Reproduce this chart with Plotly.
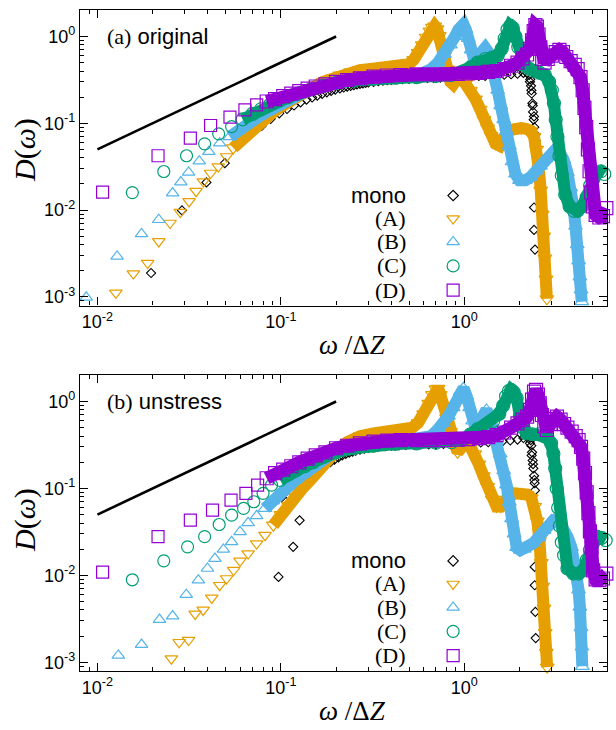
import plotly.graph_objects as go

# ---------------- data: panel (a) original ----------------
mono_a_w = [0.0196, 0.0289, 0.0393, 0.0495, 0.0586, 0.068, 0.0786, 0.088, 0.098, 0.108, 0.118, 0.128, 0.138, 0.148,
            0.158, 0.168, 0.178, 0.188, 0.198, 0.21, 0.22, 0.23, 0.24, 0.25, 0.26, 0.27, 0.28, 0.29, 0.30, 0.32, 0.34,
            0.36, 0.38, 0.40, 0.43, 0.46, 0.50, 0.54, 0.58, 0.63, 0.68, 0.74, 0.80, 0.87, 0.94, 1.02, 1.1, 1.2, 1.3,
            1.4, 1.52, 1.65, 1.8, 1.95, 2.1, 2.2, 2.26, 2.29, 2.31, 2.33, 2.35, 2.37, 2.39, 2.41, 2.43, 2.45, 2.40,
            2.40, 2.43, 2.28, 2.32, 2.36, 2.40]
mono_a_d = [0.00188, 0.0099, 0.0208, 0.0347, 0.055, 0.0736, 0.0933, 0.112, 0.13, 0.146, 0.16, 0.174, 0.187, 0.198,
            0.208, 0.218, 0.227, 0.236, 0.244, 0.252, 0.258, 0.264, 0.27, 0.275, 0.28, 0.284, 0.288, 0.292, 0.295, 0.30,
            0.305, 0.31, 0.313, 0.316, 0.32, 0.322, 0.325, 0.327, 0.33, 0.332, 0.334, 0.336, 0.338, 0.34, 0.342, 0.345,
            0.348, 0.35, 0.352, 0.355, 0.358, 0.362, 0.367, 0.372, 0.38, 0.38, 0.36, 0.32, 0.27, 0.22, 0.17, 0.135,
            0.11, 0.09, 0.075, 0.063, 0.0107, 0.0059, 0.0035, 0.30, 0.24, 0.16, 0.12]

A_a_sw = [0.0126, 0.0157, 0.0188, 0.0216, 0.0249, 0.0283, 0.0316, 0.0345, 0.0378, 0.0414, 0.0456, 0.0506]
A_a_sd = [0.00111, 0.00185, 0.00245, 0.00435, 0.00709, 0.00948, 0.01256, 0.0165, 0.0213, 0.0267, 0.0317, 0.0414]
A_a_w = [0.055, 0.06, 0.065, 0.07, 0.075, 0.08, 0.09, 0.1, 0.11, 0.12, 0.135, 0.15, 0.17, 0.19, 0.21, 0.24, 0.27,
         0.3, 0.34, 0.38, 0.42, 0.46, 0.5, 0.53, 0.56, 0.59, 0.62, 0.65, 0.67, 0.69, 0.71, 0.73, 0.75, 0.78, 0.81,
         0.84, 0.87, 0.9, 0.93, 0.97, 1.02, 1.08, 1.15, 1.22, 1.28, 1.34, 1.40, 1.48, 1.56, 1.63, 1.70, 1.80, 1.92,
         2.05, 2.18, 2.30, 2.40, 2.48, 2.55, 2.61, 2.66, 2.71, 2.75, 2.79, 2.82]
A_a_d = [0.052, 0.062, 0.073, 0.085, 0.097, 0.108, 0.132, 0.155, 0.178, 0.2, 0.23, 0.26, 0.3, 0.33, 0.36, 0.39, 0.41,
         0.42, 0.43, 0.43, 0.44, 0.45, 0.48, 0.54, 0.65, 0.8, 0.98, 1.15, 1.27, 1.32, 1.22, 1.02, 0.82, 0.6, 0.42,
         0.3, 0.28, 0.31, 0.34, 0.33, 0.29, 0.24, 0.19, 0.145, 0.11, 0.088, 0.072, 0.058, 0.055, 0.068, 0.078, 0.084,
         0.088, 0.088, 0.086, 0.082, 0.07, 0.05, 0.03, 0.017, 0.009, 0.005, 0.0028, 0.0016, 0.00095]

B_a_sw = [0.00869, 0.0128, 0.0174, 0.0216, 0.0257, 0.0285, 0.0314, 0.0359, 0.0405, 0.0464]
B_a_sd = [0.000986, 0.00292, 0.0053, 0.00773, 0.0157, 0.021, 0.0271, 0.0366, 0.047, 0.059]
B_a_w = [0.0527, 0.058, 0.064, 0.07, 0.077, 0.085, 0.095, 0.105, 0.115, 0.13, 0.15, 0.17, 0.2, 0.24, 0.3, 0.38,
         0.48, 0.58, 0.66, 0.72, 0.78, 0.84, 0.89, 0.93, 0.96, 0.99, 1.02, 1.05, 1.09, 1.13, 1.18, 1.24, 1.30, 1.35,
         1.40, 1.46, 1.52, 1.58, 1.64, 1.70, 1.76, 1.82, 1.9, 2.0, 2.15, 2.3, 2.45, 2.6, 2.78, 2.95, 3.12, 3.3, 3.48,
         3.65, 3.8, 3.93, 4.04, 4.13, 4.2, 4.27, 4.33, 4.37]
B_a_d = [0.070, 0.082, 0.095, 0.108, 0.122, 0.138, 0.158, 0.178, 0.197, 0.22, 0.25, 0.275, 0.3, 0.32, 0.34, 0.35,
         0.36, 0.37, 0.42, 0.5, 0.62, 0.8, 1.0, 1.2, 1.33, 1.38, 1.2, 0.95, 0.7, 0.55, 0.58, 0.68, 0.74, 0.66, 0.52,
         0.36, 0.24, 0.16, 0.11, 0.08, 0.055, 0.036, 0.026, 0.022, 0.022, 0.024, 0.028, 0.032, 0.039, 0.045, 0.049,
         0.046, 0.038, 0.027, 0.018, 0.011, 0.0065, 0.004, 0.0026, 0.0017, 0.0012, 0.00088]

C_a_sw = [0.0155, 0.0230, 0.0306, 0.0384, 0.0458, 0.0539]
C_a_sd = [0.0159, 0.0278, 0.0422, 0.0579, 0.0755, 0.0916]
C_a_w = [0.0619, 0.07, 0.078, 0.087, 0.097, 0.11, 0.125, 0.145, 0.17, 0.2, 0.25, 0.32, 0.42, 0.55, 0.7, 0.85, 0.98,
         1.08, 1.18, 1.3, 1.42, 1.52, 1.6, 1.66, 1.72, 1.78, 1.84, 1.9, 1.97, 2.05, 2.15, 2.28, 2.42, 2.58, 2.75, 2.9,
         3.0, 3.08, 3.15, 3.22, 3.3, 3.4, 3.55, 3.75, 3.95, 4.15, 4.4, 4.65, 4.85, 5.05, 5.3, 5.55, 5.8]
C_a_d = [0.111, 0.128, 0.145, 0.162, 0.18, 0.2, 0.22, 0.245, 0.27, 0.29, 0.31, 0.325, 0.335, 0.34, 0.35, 0.36, 0.39,
         0.44, 0.5, 0.55, 0.57, 0.6, 0.72, 0.95, 1.2, 1.33, 1.25, 1.0, 0.75, 0.55, 0.46, 0.42, 0.4, 0.38, 0.36, 0.3,
         0.24, 0.17, 0.11, 0.07, 0.042, 0.025, 0.015, 0.011, 0.0098, 0.0098, 0.011, 0.014, 0.019, 0.023, 0.027, 0.028,
         0.026]

D_a_sw = [0.01067, 0.0214, 0.0321, 0.0414, 0.0528, 0.0637, 0.0738]
D_a_sd = [0.0161, 0.0422, 0.0674, 0.0942, 0.1175, 0.1426, 0.163]
D_a_w = [0.0837, 0.093, 0.103, 0.114, 0.126, 0.14, 0.155, 0.175, 0.2, 0.23, 0.27, 0.32, 0.38, 0.45, 0.55, 0.65, 0.78,
         0.92, 1.05, 1.2, 1.35, 1.5, 1.65, 1.8, 1.95, 2.08, 2.2, 2.28, 2.34, 2.39, 2.44, 2.49, 2.54, 2.6, 2.66, 2.74,
         2.85, 3.0, 3.15, 3.3, 3.45, 3.6, 3.8, 4.0, 4.15, 4.3, 4.42, 4.52, 4.62, 4.72, 4.82, 4.92, 5.02, 5.2, 5.45,
         5.7, 5.95]
D_a_d = [0.178, 0.19, 0.205, 0.22, 0.235, 0.25, 0.265, 0.28, 0.3, 0.315, 0.33, 0.345, 0.355, 0.36, 0.365, 0.365,
         0.365, 0.37, 0.375, 0.38, 0.39, 0.4, 0.42, 0.46, 0.5, 0.56, 0.62, 0.72, 0.9, 1.15, 1.35, 1.3, 1.05, 0.75,
         0.55, 0.5, 0.55, 0.6, 0.66, 0.7, 0.66, 0.58, 0.52, 0.47, 0.42, 0.34, 0.24, 0.15, 0.09, 0.05, 0.028, 0.016,
         0.011, 0.0088, 0.0082, 0.0085, 0.0105]

# ---------------- data: panel (b) unstress ----------------
mono_b_w = [0.0971, 0.1069, 0.1167, 0.1265, 0.1363, 0.146, 0.156, 0.166, 0.176, 0.186, 0.196, 0.206, 0.216, 0.226,
            0.236, 0.246, 0.256, 0.27, 0.285, 0.3, 0.32, 0.34, 0.37, 0.4, 0.44, 0.48, 0.53, 0.58, 0.64, 0.7, 0.77,
            0.85, 0.93, 1.02, 1.12, 1.23, 1.35, 1.48, 1.62, 1.78, 1.95, 2.1, 2.2, 2.27, 2.3, 2.32, 2.34, 2.36, 2.38,
            2.4, 2.42, 2.43, 2.42, 2.42, 2.44, 2.45, 2.28, 2.33, 2.37, 2.41]
mono_b_d = [0.0096, 0.07, 0.0213, 0.043, 0.105, 0.12, 0.143, 0.165, 0.185, 0.2, 0.215, 0.228, 0.24, 0.25, 0.258,
            0.265, 0.272, 0.28, 0.287, 0.293, 0.298, 0.302, 0.306, 0.31, 0.313, 0.316, 0.318, 0.32, 0.322, 0.324,
            0.326, 0.328, 0.33, 0.332, 0.335, 0.338, 0.34, 0.344, 0.35, 0.356, 0.365, 0.38, 0.39, 0.39, 0.36, 0.31,
            0.26, 0.21, 0.17, 0.14, 0.115, 0.095, 0.0125, 0.0077, 0.0038, 0.0019, 0.33, 0.24, 0.19, 0.125]

A_b_sw = [0.0253, 0.0279, 0.0314, 0.0341, 0.0377, 0.042, 0.0464, 0.0506, 0.0553, 0.0599, 0.0663, 0.0738, 0.082]
A_b_sd = [0.0011, 0.0017, 0.0018, 0.0036, 0.0040, 0.0055, 0.0077, 0.0092, 0.0115, 0.0147, 0.0178, 0.0232, 0.029]
A_b_w = [0.091, 0.1, 0.11, 0.12, 0.13, 0.145, 0.16, 0.18, 0.2, 0.23, 0.27, 0.32, 0.38, 0.45, 0.52, 0.56, 0.6, 0.64,
         0.67, 0.7, 0.72, 0.74, 0.77, 0.8, 0.84, 0.88, 0.92, 0.97, 1.02, 1.08, 1.14, 1.2, 1.27, 1.34, 1.42, 1.5, 1.58,
         1.66, 1.75, 1.9, 2.05, 2.2, 2.32, 2.42, 2.5, 2.57, 2.63, 2.68, 2.72, 2.76, 2.8, 2.83]
A_b_d = [0.0378, 0.05, 0.064, 0.08, 0.098, 0.125, 0.16, 0.21, 0.27, 0.34, 0.4, 0.43, 0.45, 0.46, 0.5, 0.57, 0.72,
         0.95, 1.2, 1.4, 1.42, 1.2, 0.9, 0.65, 0.45, 0.3, 0.26, 0.3, 0.33, 0.3, 0.25, 0.19, 0.14, 0.105, 0.075, 0.062,
         0.062, 0.075, 0.082, 0.088, 0.088, 0.085, 0.078, 0.062, 0.042, 0.025, 0.014, 0.0075, 0.0042, 0.0022, 0.0013,
         0.00088]

B_b_sw = [0.0130, 0.0174, 0.0218, 0.0257, 0.0305, 0.0355, 0.0398, 0.0437, 0.0486, 0.0539, 0.0599, 0.0663, 0.0738]
B_b_sd = [0.0012, 0.0016, 0.0031, 0.0034, 0.0060, 0.0088, 0.012, 0.0156, 0.0199, 0.0243, 0.0317, 0.0402, 0.0484]
B_b_w = [0.082, 0.09, 0.1, 0.11, 0.12, 0.135, 0.15, 0.17, 0.2, 0.24, 0.3, 0.38, 0.48, 0.58, 0.66, 0.72, 0.77, 0.82,
         0.87, 0.91, 0.95, 0.99, 1.03, 1.07, 1.11, 1.15, 1.2, 1.26, 1.32, 1.38, 1.44, 1.5, 1.57, 1.64, 1.7, 1.76,
         1.81, 1.87, 1.93, 2.02, 2.12, 2.25, 2.38, 2.55, 2.72, 2.9, 3.06, 3.25, 3.46, 3.65, 3.84, 3.98, 4.1, 4.2,
         4.27, 4.33, 4.38, 4.4]
B_b_d = [0.0589, 0.072, 0.09, 0.108, 0.125, 0.15, 0.18, 0.22, 0.27, 0.31, 0.34, 0.35, 0.36, 0.37, 0.4, 0.48, 0.56,
         0.68, 0.85, 1.05, 1.3, 1.42, 1.15, 0.85, 0.6, 0.5, 0.55, 0.7, 0.8, 0.65, 0.47, 0.35, 0.25, 0.16, 0.11, 0.07,
         0.045, 0.03, 0.021, 0.0195, 0.02, 0.022, 0.0235, 0.027, 0.033, 0.039, 0.043, 0.042, 0.036, 0.028, 0.021,
         0.015, 0.0105, 0.0068, 0.0043, 0.0025, 0.0015, 0.0009]

C_b_sw = [0.0155, 0.0230, 0.0310, 0.0384, 0.0461, 0.0539, 0.0626, 0.0712, 0.080, 0.089]
C_b_sd = [0.0089, 0.0147, 0.0213, 0.0279, 0.0385, 0.0493, 0.0589, 0.0703, 0.0878, 0.109]
C_b_w = [0.099, 0.11, 0.12, 0.135, 0.15, 0.17, 0.2, 0.25, 0.32, 0.42, 0.55, 0.7, 0.85, 0.98, 1.08, 1.18, 1.3, 1.44,
         1.55, 1.63, 1.69, 1.75, 1.8, 1.86, 1.93, 2.01, 2.1, 2.19, 2.35, 2.55, 2.72, 2.85, 2.97, 3.06, 3.13, 3.19,
         3.25, 3.32, 3.4, 3.5, 3.65, 3.93, 4.2, 4.45, 4.65, 4.84, 5.05, 5.27, 5.6, 5.9]
C_b_d = [0.125, 0.145, 0.16, 0.18, 0.2, 0.23, 0.26, 0.29, 0.31, 0.325, 0.33, 0.335, 0.34, 0.36, 0.42, 0.48, 0.53,
         0.6, 0.72, 0.9, 1.15, 1.32, 1.36, 1.28, 1.1, 0.68, 0.5, 0.43, 0.42, 0.42, 0.4, 0.38, 0.33, 0.25, 0.17, 0.1,
         0.06, 0.037, 0.024, 0.017, 0.012, 0.0105, 0.0105, 0.0114, 0.015, 0.0195, 0.024, 0.0279, 0.027, 0.0254]

D_b_sw = [0.01067, 0.0214, 0.0321, 0.0424, 0.0535, 0.0645, 0.0747]
D_b_sd = [0.0109, 0.0279, 0.0432, 0.0564, 0.0735, 0.0878, 0.109]
D_b_w = [0.0837, 0.093, 0.103, 0.114, 0.126, 0.14, 0.155, 0.175, 0.2, 0.23, 0.27, 0.32, 0.38, 0.45, 0.55, 0.65, 0.78,
         0.92, 1.05, 1.2, 1.35, 1.5, 1.65, 1.8, 1.95, 2.08, 2.2, 2.28, 2.34, 2.4, 2.46, 2.52, 2.58, 2.65, 2.73, 2.82,
         2.95, 3.08, 3.2, 3.35, 3.5, 3.65, 3.85, 4.05, 4.2, 4.33, 4.45, 4.55, 4.65, 4.75, 4.84, 4.94, 5.04, 5.2, 5.45,
         5.7, 5.95]
D_b_d = [0.131, 0.15, 0.165, 0.18, 0.2, 0.22, 0.24, 0.26, 0.29, 0.31, 0.33, 0.345, 0.355, 0.36, 0.36, 0.36, 0.36,
         0.365, 0.37, 0.38, 0.39, 0.41, 0.44, 0.5, 0.56, 0.62, 0.67, 0.8, 1.05, 1.3, 1.36, 1.2, 0.95, 0.7, 0.52, 0.47,
         0.55, 0.63, 0.67, 0.62, 0.55, 0.5, 0.45, 0.4, 0.36, 0.3, 0.22, 0.15, 0.09, 0.052, 0.032, 0.021, 0.0114,
         0.009, 0.0088, 0.0092, 0.0105]

# guide line  D ~ omega
guide_w = [0.01, 0.2]
guide_d = [0.05, 1.0]

legend_names = ["mono", "(A)", "(B)", "(C)", "(D)"]
x_ticks = [0.01, 0.1, 1]
x_ticktext = ["10<sup>-2</sup>", "10<sup>-1</sup>", "10<sup>0</sup>"]
y_ticks = [0.001, 0.01, 0.1, 1]
y_ticktext = ["10<sup>-3</sup>", "10<sup>-2</sup>", "10<sup>-1</sup>", "10<sup>0</sup>"]

# ---------------- styles ----------------
COLORS = ["#000000", "#E69F00", "#56B4E9", "#009E73", "#9400D3"]
SYMBOLS = ["diamond-open", "triangle-down-open", "triangle-up-open", "circle-open", "square-open"]
SIZES = [7, 11, 11, 12, 12]
BAND = [0, 12, 12, 12, 13]
XR = [-2.095, 0.778]
YR = [-3.10, 0.305]

# pixel frame of the plotting area (figure 616x730)
L, R, T, B = 80, 607, 10, 671


def px(xpix):
    return (xpix - L) / (R - L)


def py(ypix):
    return (B - ypix) / (B - T)


fig = go.Figure()


def add_panel(xa, ya, mono, series):
    mw, md = mono
    fig.add_trace(go.Scatter(x=mw, y=md, mode="markers", xaxis=xa, yaxis=ya, cliponaxis=False,
                             marker=dict(symbol=SYMBOLS[0], size=SIZES[0], color=COLORS[0],
                                         line=dict(width=1.1, color=COLORS[0])),
                             showlegend=False, hoverinfo="skip"))
    for i, (sw, sd, w, d) in enumerate(series, start=1):
        fig.add_trace(go.Scatter(x=w, y=d, mode="lines+markers", xaxis=xa, yaxis=ya, cliponaxis=False,
                                 line=dict(color=COLORS[i], width=BAND[i]),
                                 marker=dict(symbol=SYMBOLS[i], size=SIZES[i] + 1, color=COLORS[i],
                                             line=dict(width=1.2, color=COLORS[i])),
                                 showlegend=False, hoverinfo="skip"))
        fig.add_trace(go.Scatter(x=sw, y=sd, mode="markers", xaxis=xa, yaxis=ya, cliponaxis=False,
                                 marker=dict(symbol=SYMBOLS[i], size=SIZES[i], color=COLORS[i],
                                             line=dict(width=1.2, color=COLORS[i])),
                                 showlegend=False, hoverinfo="skip"))
    fig.add_trace(go.Scatter(x=guide_w, y=guide_d, mode="lines", xaxis=xa, yaxis=ya,
                             line=dict(color="black", width=2.6), showlegend=False, hoverinfo="skip"))
    # legend keys (positioned as fractions of the plotting area)
    lx_frac = 0.708
    rows = [0.372, 0.294, 0.215, 0.134, 0.052]
    kx = [10 ** (XR[0] + lx_frac * (XR[1] - XR[0]))] * 5
    ky = [10 ** (YR[0] + r * (YR[1] - YR[0])) for r in rows]
    for i in range(5):
        fig.add_trace(go.Scatter(x=[kx[i]], y=[ky[i]], mode="markers", xaxis=xa, yaxis=ya,
                                 marker=dict(symbol=SYMBOLS[i], size=SIZES[i] + (1 if i == 0 else 0),
                                             color=COLORS[i], line=dict(width=1.2, color=COLORS[i])),
                                 showlegend=False, hoverinfo="skip"))
        fam = "Liberation Sans" if i == 0 else "Liberation Serif"
        xref = "x domain" if xa == "x" else "x2 domain"
        yref = "y domain" if ya == "y" else "y2 domain"
        fig.add_annotation(x=0.622, y=rows[i], xref=xref, yref=yref, xanchor="right", yanchor="middle",
                           text=legend_names[i], showarrow=False,
                           font=dict(family=fam, size=22, color="black"))


add_panel("x", "y", (mono_a_w, mono_a_d),
          [(A_a_sw, A_a_sd, A_a_w, A_a_d), (B_a_sw, B_a_sd, B_a_w, B_a_d),
           (C_a_sw, C_a_sd, C_a_w, C_a_d), (D_a_sw, D_a_sd, D_a_w, D_a_d)])
add_panel("x2", "y2", (mono_b_w, mono_b_d),
          [(A_b_sw, A_b_sd, A_b_w, A_b_d), (B_b_sw, B_b_sd, B_b_w, B_b_d),
           (C_b_sw, C_b_sd, C_b_w, C_b_d), (D_b_sw, D_b_sd, D_b_w, D_b_d)])

minor_x = [m * 10 ** e for e in (-3, -2, -1, 0) for m in range(2, 10)]
minor_y = [m * 10 ** e for e in (-4, -3, -2, -1, 0) for m in range(2, 10)]
axis_common = dict(type="log", showgrid=False, zeroline=False, showline=True, linecolor="black", linewidth=1.4,
                   mirror="allticks", ticks="inside", ticklen=8, tickwidth=1, tickcolor="black",
                   tickfont=dict(family="Liberation Sans", size=18, color="black"))
xa = dict(axis_common, range=XR, tickmode="array", tickvals=x_ticks, ticktext=x_ticktext,
          minor=dict(tickmode="array", tickvals=minor_x, ticks="inside", ticklen=4, tickwidth=1, tickcolor="black"))
ya = dict(axis_common, range=YR, tickmode="array", tickvals=y_ticks, ticktext=y_ticktext,
          minor=dict(tickmode="array", tickvals=minor_y, ticks="inside", ticklen=4, tickwidth=1, tickcolor="black"))

fig.update_layout(
    width=616, height=730, margin=dict(l=L, r=616 - R, t=T, b=730 - B),
    paper_bgcolor="white", plot_bgcolor="white", showlegend=False,
    xaxis=dict(xa, domain=[0, 1], anchor="y"),
    yaxis=dict(ya, domain=[py(305.5), 1], anchor="x"),
    xaxis2=dict(xa, domain=[0, 1], anchor="y2"),
    yaxis2=dict(ya, domain=[0, py(375)], anchor="x2"),
)

# panel labels
for lab, yref, xref in (("(a)", "y domain", "x domain"), ("(b)", "y2 domain", "x2 domain")):
    word = "original" if lab == "(a)" else "unstress"
    fig.add_annotation(x=0.047, y=0.912, xref=xref, yref=yref, xanchor="left", yanchor="middle", showarrow=False,
                       text="<span style='font-family:Liberation Serif'>" + lab + "</span> " + word,
                       font=dict(family="Liberation Sans", size=22, color="black"))

# axis titles
for ypix_x, ypix_y in ((345, 150), (711, 520)):
    fig.add_annotation(x=px(352), y=py(ypix_x), xref="paper", yref="paper", showarrow=False,
                       xanchor="center", yanchor="middle",
                       text="<i>ω</i> /Δ<i>Z</i>", font=dict(family="Liberation Serif", size=27, color="black"))
    fig.add_annotation(x=px(25), y=py(ypix_y), xref="paper", yref="paper", showarrow=False,
                       xanchor="center", yanchor="middle", textangle=-90,
                       text="<i>D</i>(<i>ω</i>)", font=dict(family="Liberation Serif", size=30, color="black"))

fig.write_html("out.html")
